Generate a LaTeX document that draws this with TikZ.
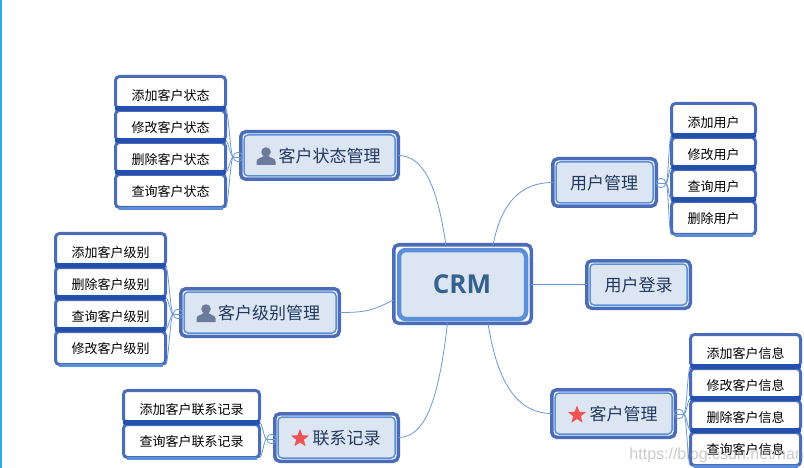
\documentclass[tikz,border=0pt]{standalone}
\usepackage{fontspec}
\setmainfont{Noto Sans CJK SC}
\newfontfamily\crmfont{Open Sans}
\newfontfamily\wmfont{Liberation Sans}
\usetikzlibrary{shapes.geometric}
\definecolor{outerblue}{HTML}{4A6CB9}
\definecolor{innerblue}{HTML}{5B90D8}
\definecolor{barblue}{HTML}{2450AE}
\definecolor{fillblue}{HTML}{DCE5F2}
\definecolor{titlecol}{HTML}{22375E}
\definecolor{crmcol}{HTML}{35618F}
\definecolor{linkblue}{HTML}{6C98D8}
\definecolor{iconcol}{HTML}{6C7A9B}
\definecolor{starred}{HTML}{F05353}
\definecolor{edgecyan}{HTML}{29ABE2}
\tikzset{
  outerbox/.style={draw=outerblue,line width=3.5pt,fill=white,rounded corners=5pt,inner sep=0pt,outer sep=0pt},
  innerbox/.style={draw=innerblue,line width=1.5pt,fill=fillblue,rounded corners=4pt,inner sep=0pt,outer sep=0pt},
  crminner/.style={draw=innerblue,line width=4.5pt,fill=fillblue,rounded corners=7pt,inner sep=0pt,outer sep=0pt},
  leafbox/.style={draw=outerblue,line width=3pt,fill=white,rounded corners=4pt,inner sep=0pt,outer sep=0pt},
  leaftext/.style={font=\fontsize{13}{15}\selectfont,text=black,inner sep=0pt},
  maintext/.style={font=\fontsize{17}{20}\selectfont,text=titlecol,inner sep=0pt},
  link/.style={draw=linkblue,line width=0.8pt},
  toggle/.style={circle,draw=linkblue,line width=0.8pt,minimum size=9.5pt,inner sep=0pt,outer sep=0pt},
  starshape/.style={star,star points=5,star point ratio=2.35,fill=starred,minimum size=19pt,inner sep=0pt,outer sep=0pt},
}
% name, x1,y1,x2,y2, text x, text y, text
\newcommand{\mainbox}[8]{%
  \node[outerbox,minimum width={#4-#2-3.5},minimum height={#5-#3-3.5}] (#1) at ({(#2+#4)/2},{(#3+#5)/2}) {};
  \node[innerbox,minimum width={#4-#2-10},minimum height={#5-#3-10}] (#1in) at ({(#2+#4)/2},{(#3+#5)/2}) {};
  \node[maintext] (#1txt) at (#6,#7) {#8};
}
% name, x1,y1,x2,y2, text, text y
\newcommand{\leaf}[7]{%
  \node[leafbox,minimum width={#4-#2-3},minimum height={#5-#3-3}] (#1) at ({(#2+#4)/2},{(#3+#5)/2}) {};
  \node[leaftext] (#1txt) at ({(#2+#4)/2},#7+0.8) {#6};
}
\newcommand{\leafbar}[1]{\draw[barblue,line width=4.5pt,line cap=round] ([xshift=1.5pt]#1.south west) -- ([xshift=-1.5pt]#1.south east);}
\newcommand{\lastbar}[1]{\draw[innerblue,line width=2.5pt] ([xshift=3pt,yshift=-1pt]#1.south west) -- ([xshift=-3pt,yshift=-1pt]#1.south east);}
% name, x, y
\newcommand{\person}[3]{%
  \node[circle,fill=iconcol,minimum width=9.5pt,minimum height=9.5pt,inner sep=0pt,outer sep=0pt] (#1) at (#2,#3-4) {};
  \fill[iconcol] (#2-9.5,#3+9) -- (#2-9.5,#3+5.5) .. controls (#2-9.5,#3+2) and (#2-4,#3+2) .. (#2-2.5,#3)
    -- (#2+2.5,#3) .. controls (#2+4,#3+2) and (#2+9.5,#3+2) .. (#2+9.5,#3+5.5) -- (#2+9.5,#3+9) -- cycle;
}
\newcommand{\fanleft}[2]{\draw[link] (#1.west) .. controls +(-3,0) and +(3,0) .. (#2.south east);}
\newcommand{\fanright}[2]{\draw[link] (#1.east) .. controls +(3,0) and +(-3,0) .. (#2.south west);}
\newcommand{\toggleon}[1]{\draw[link] (#1.west) -- (#1.east);}
\begin{document}
\begin{tikzpicture}[x=1pt,y=-1pt]
\useasboundingbox (0,0) rectangle (804,468);
\fill[white] (0,0) rectangle (804,468);
\fill[edgecyan] (0,0) rectangle (1.5,468);

% central node
\node[outerbox,minimum width=137.5pt,minimum height=78.5pt] (crm) at (462.5,284) {};
\node[crminner,minimum width=127pt,minimum height=69pt] (crmin) at (462.5,284.5) {};
\node[font=\crmfont\bfseries\fontsize{26}{30}\selectfont,text=crmcol,inner sep=0pt] (crmtxt) at (462,284) {CRM};

% branches
\mainbox{stat}{239}{130}{400}{181}{329.5}{156}{客户状态管理}
\mainbox{level}{179}{287}{341}{338}{269}{313}{客户级别管理}
\mainbox{contact}{273}{412}{400}{463}{346.5}{438}{联系记录}
\mainbox{user}{551}{157}{658}{208}{604}{183}{用户管理}
\mainbox{login}{585}{259}{692}{310}{638.5}{285}{用户登录}
\mainbox{cust}{550}{388}{677}{439}{623.5}{414}{客户管理}

\person{statp}{266}{156}
\person{levelp}{206}{313}
\node[starshape] (contacts) at (300,438.5) {};
\node[starshape] (custs) at (577,415) {};

% leaves
\leaf{s1}{114}{75}{227}{110}{添加客户状态}{95}
\leaf{s2}{114}{109}{227}{142}{修改客户状态}{127}
\leaf{s3}{114}{141}{227}{174}{删除客户状态}{159}
\leaf{s4}{114}{173}{227}{209}{查询客户状态}{191}
\leaf{l1}{54}{232}{167}{267}{添加客户级别}{252}
\leaf{l2}{54}{266}{167}{299}{删除客户级别}{284}
\leaf{l3}{54}{298}{167}{331}{查询客户级别}{316}
\leaf{l4}{54}{330}{167}{366}{修改客户级别}{348}
\leaf{c1}{122}{389}{261}{424}{添加客户联系记录}{409}
\leaf{c2}{122}{423}{261}{459}{查询客户联系记录}{441}
\leaf{u1}{670}{102}{757}{137}{添加用户}{122}
\leaf{u2}{670}{136}{757}{169}{修改用户}{154}
\leaf{u3}{670}{168}{757}{201}{查询用户}{186}
\leaf{u4}{670}{200}{757}{236}{删除用户}{218}
\leaf{k1}{689}{333}{802}{368}{添加客户信息}{353}
\leaf{k2}{689}{367}{802}{400}{修改客户信息}{385}
\leaf{k3}{689}{399}{802}{432}{删除客户信息}{417}
\leaf{k4}{689}{431}{802}{467}{查询客户信息}{449}

\leafbar{s1}\leafbar{s2}\leafbar{s3}\lastbar{s4}
\leafbar{l1}\leafbar{l2}\leafbar{l3}\lastbar{l4}
\leafbar{c1}\lastbar{c2}
\leafbar{u1}\leafbar{u2}\leafbar{u3}\lastbar{u4}
\leafbar{k1}\leafbar{k2}\leafbar{k3}\lastbar{k4}

% toggles
\node[toggle] (ts) at (238,157) {};
\node[toggle] (tl) at (178,314) {};
\node[toggle] (tc) at (271.5,439) {};
\node[toggle] (tu) at (661,183) {};
\node[toggle] (tk) at (679,414) {};
\toggleon{ts}\toggleon{tl}\toggleon{tc}\toggleon{tu}\toggleon{tk}

% fans
\fanleft{ts}{s1}\fanleft{ts}{s2}\fanleft{ts}{s3}\fanleft{ts}{s4}
\fanleft{tl}{l1}\fanleft{tl}{l2}\fanleft{tl}{l3}\fanleft{tl}{l4}
\fanleft{tc}{c1}\fanleft{tc}{c2}
\fanright{tu}{u1}\fanright{tu}{u2}\fanright{tu}{u3}\fanright{tu}{u4}
\fanright{tk}{k1}\fanright{tk}{k2}\fanright{tk}{k3}\fanright{tk}{k4}

% main connectors
\draw[link] (crm.113) .. controls +(-9,-62) and +(24,0) .. (stat.east);
\draw[link] (crm.52) .. controls +(8,-42) and +(-32,0) .. (user.west);
\draw[link] (crm.193) .. controls +(-22,11) and +(26,0) .. (level.east);
\draw[link] (crm.east |- login.west) -- (login.west);
\draw[link] (crm.249) .. controls +(-9,80) and +(26,0) .. (contact.east);
\draw[link] (crm.303) .. controls +(10,64) and +(-32,0) .. (cust.west);

% watermark
\node[font=\wmfont\fontsize{16}{18}\selectfont,text=black!45,opacity=0.45,anchor=east,inner sep=0pt] (mark) at (804,455) {https://blog.csdn.net/han};
\end{tikzpicture}
\end{document}
